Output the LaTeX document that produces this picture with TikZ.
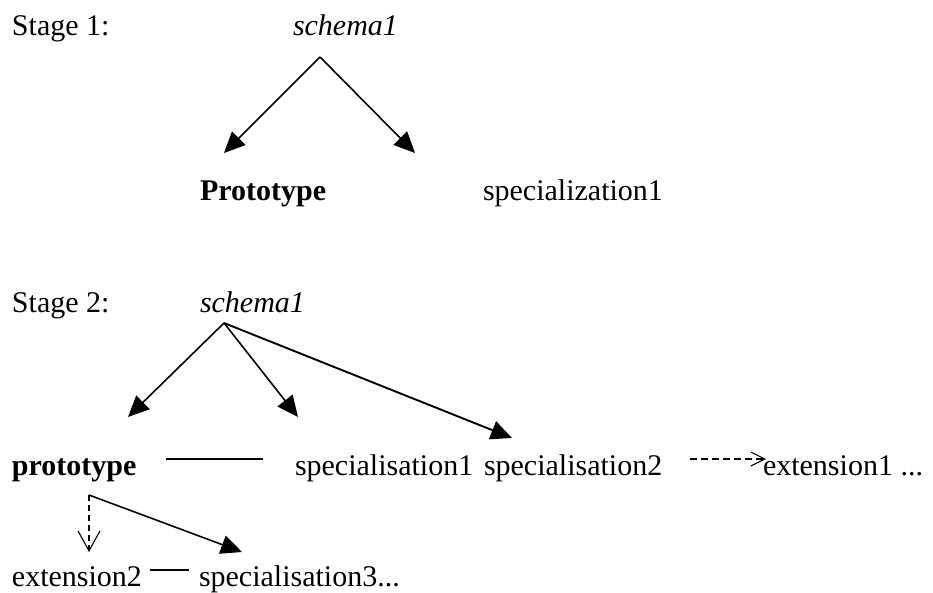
\documentclass[tikz,border=0pt]{standalone}
\usepackage{fontspec}
\setmainfont{Liberation Serif}
\usetikzlibrary{arrows.meta}

\begin{document}
\begin{tikzpicture}[x=1pt,y=-1pt,
  lbl/.style={anchor=base west,inner sep=0pt,outer sep=0pt,font=\fontsize{30}{36}\selectfont},
  solidarrow/.style={line width=1.6pt,-{Triangle[length=21pt,width=19pt]}},
  openarrow/.style={line width=1.1pt,dash pattern=on 6pt off 4pt,-{Straight Barb[length=20pt,width=22pt,line width=1.1pt]}},
  smallopen/.style={line width=1.1pt,dash pattern=on 7pt off 4pt,-{Straight Barb[length=14pt,width=14pt,line width=1.1pt]}},
  plainline/.style={line width=1.5pt}]
\useasboundingbox (0,0) rectangle (933,592);

% Stage 1
\node[lbl] (stageA) at (12,35) {Stage 1:};
\node[lbl] (schemaA) at (293,35) {\textit{schema1}};
\node[lbl] (protoA) at (200,200) {\textbf{Prototype}};
\node[lbl] (specA) at (483,200) {specialization1};

\coordinate (apexA) at (320,57);
\coordinate (tipA1) at (224,153);
\coordinate (tipA2) at (415,153);
\draw[solidarrow] (apexA) -- (tipA1);
\draw[solidarrow] (apexA) -- (tipA2);

% Stage 2
\node[lbl] (stageB) at (12,312) {Stage 2:};
\node[lbl] (schemaB) at (200,312) {\textit{schema1}};
\node[lbl] (protoB) at (12,475) {\textbf{prototype}};
\node[lbl] (specB1) at (295,475) {specialisation1};
\node[lbl] (specB2) at (484,475) {specialisation2};
\node[lbl] (extB1) at (763,475) {extension1 ...};
\node[lbl] (extB2) at (12,586) {extension2};
\node[lbl] (specB3) at (199,586) {specialisation3...};

\coordinate (apexB) at (224,323);
\coordinate (tipB1) at (128,417);
\coordinate (tipB2) at (298,417);
\coordinate (tipB3) at (512,438);
\draw[solidarrow] (apexB) -- (tipB1);
\draw[solidarrow] (apexB) -- (tipB2);
\draw[solidarrow,line width=1.9pt] (apexB) -- (tipB3);

% link beside the prototype
\coordinate (linkL) at (166,459);
\coordinate (linkR) at (263,459);
\draw[plainline] (linkL) -- (linkR);

% branches below the prototype
\coordinate (forkC) at (89,495);
\coordinate (tipC1) at (89,552);
\coordinate (tipC2) at (242,552);
\draw[openarrow] (forkC) -- (tipC1);
\draw[solidarrow] (forkC) -- (tipC2);

% link between extension2 and specialisation3
\coordinate (linkD) at (150,570);
\coordinate (linkE) at (189,570);
\draw[plainline] (linkD) -- (linkE);

% dashed pointer to extension1
\coordinate (dashS) at (690,459);
\coordinate (dashT) at (766,459);
\draw[smallopen] (dashS) -- (dashT);
\end{tikzpicture}
\end{document}
